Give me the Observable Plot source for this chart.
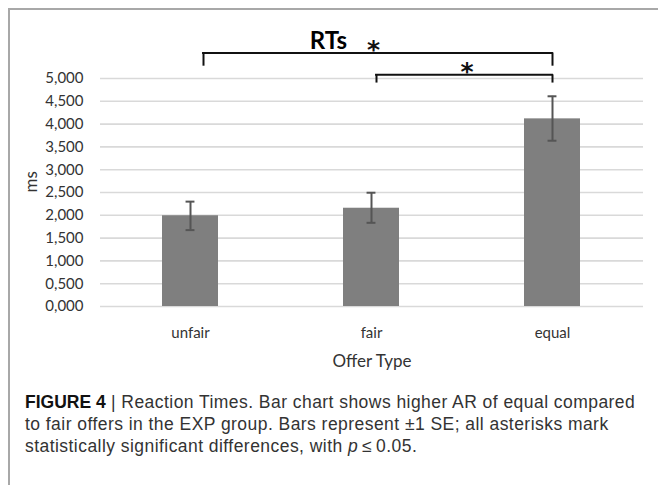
<!DOCTYPE html>
<html>
<head>
<meta charset="utf-8">
<script src="https://cdn.jsdelivr.net/npm/d3@7"></script>
<script src="https://cdn.jsdelivr.net/npm/@observablehq/plot@0.6"></script>
<style>
  html, body { margin: 0; padding: 0; background: #fff; }
  #wrap { position: relative; width: 658px; height: 485px; overflow: hidden; }
  #frame { position: absolute; left: 8px; top: 8px; width: 660px; height: 490px;
           border-left: 2px solid #a8a8a8; border-top: 2px solid #a8a8a8; }
  #chart { position: absolute; left: 0; top: 0; }
  #caption { position: absolute; left: 25px; top: 391px; width: 633px; white-space: nowrap;
             font-family: "Liberation Sans", Arial, sans-serif; font-size: 17.5px;
             line-height: 22px; color: #333; letter-spacing: 0.45px; }
  #caption b { color: #111; letter-spacing: 0; }
</style>
</head>
<body>
<div id="wrap">
  <div id="frame"></div>
  <div id="chart"></div>
  <div id="caption"></div>
</div>
<script>
// ---- data ----
const categories = ["unfair", "fair", "equal"];
const means = [1990, 2155, 4115];
const seLow = [1675, 1835, 3635];
const seHigh = [2300, 2495, 4610];
const yTicks = [0, 500, 1000, 1500, 2000, 2500, 3000, 3500, 4000, 4500, 5000];
const chartTitle = "RTs";
const yLabel = "ms";
const xLabel = "Offer Type";
// significance brackets
const bracketFrom = ["unfair", "fair"];
const bracketTo = ["equal", "equal"];
const bracketTop = [5560, 5080];
const bracketBottom = [5270, 4900];
const starText = ["*", "*"];
const starAt = ["fair", "fair"];
const starY = [5560, 5080];
const captionHead = "FIGURE 4";
const captionLines = [
  "Reaction Times. Bar chart shows higher AR of equal compared",
  "to fair offers in the EXP group. Bars represent \u00b11 SE; all asterisks mark",
  "statistically significant differences, with "
];

// ---- build ----
const data = categories.map((c, i) => ({cat: c, mean: means[i], lo: seLow[i], hi: seHigh[i]}));
const brackets = bracketFrom.map((f, i) => ({from: f, to: bracketTo[i], top: bracketTop[i], bottom: bracketBottom[i],
  star: starText[i], starAt: starAt[i], starY: starY[i]}));

const W = 658, H = 385, mL = 100, mR = 15, mT = 78, mB = 79;
const xOpts = {type: "band", domain: categories, paddingInner: 0.69, paddingOuter: 0.345};
const xs = Plot.scale({x: {...xOpts, range: [mL, W - mR]}});
const bw = xs.bandwidth;
const step = xs.step;

// style offsets for brackets (pixels)
const leftShift = [13, 5];
const starShift = [2, step / 2 + 5];
const capHalf = 4.5;

const ink = "#111";
const errInk = "#555";
const marks = [
  Plot.ruleY(yTicks, {stroke: "#d9d9d9", strokeWidth: 1.6}),
  Plot.barY(data, {x: "cat", y: "mean", fill: "#7f7f7f"}),
  Plot.ruleX(data, {x: "cat", y1: "lo", y2: "hi", stroke: errInk, strokeWidth: 2}),
  Plot.tickY(data, {x: "cat", y: "lo", stroke: errInk, strokeWidth: 2, insetLeft: bw / 2 - capHalf, insetRight: bw / 2 - capHalf}),
  Plot.tickY(data, {x: "cat", y: "hi", stroke: errInk, strokeWidth: 2, insetLeft: bw / 2 - capHalf, insetRight: bw / 2 - capHalf}),
  Plot.text([chartTitle], {frameAnchor: "top", dx: 328 - (mL + W - mR) / 2, dy: -30, lineAnchor: "bottom",
    text: d => d, fontSize: 24, fontWeight: "bold", fontFamily: "Lato, sans-serif", fill: "#000"})
];
brackets.forEach((b, i) => {
  marks.push(
    Plot.ruleY([b], {x1: "from", x2: "to", y: "top", insetLeft: bw / 2 + leftShift[i] - 1, insetRight: bw / 2 - 1, stroke: ink, strokeWidth: 2}),
    Plot.ruleX([b], {x: "from", y1: "bottom", y2: "top", dx: leftShift[i], stroke: ink, strokeWidth: 2}),
    Plot.ruleX([b], {x: "to", y1: "bottom", y2: "top", stroke: ink, strokeWidth: 2}),
    Plot.text([b], {x: "starAt", y: "starY", text: "star", dx: starShift[i], dy: 5, lineAnchor: "bottom",
      fontSize: 25, fontWeight: "bold", fontFamily: "DejaVu Sans, sans-serif", fill: ink})
  );
});
const fmt = d => (d / 1000).toFixed(3).replace(".", ",");
const chart = Plot.plot({
  width: W, height: H,
  marginLeft: mL, marginRight: mR, marginTop: mT, marginBottom: mB,
  style: {fontFamily: "Lato, sans-serif", fontSize: "15px", color: "#333", background: "transparent", overflow: "visible"},
  x: {...xOpts, label: null},
  y: {domain: [0, 5000], label: null},
  marks: [
    ...marks,
    Plot.axisX({tickSize: 0, tickPadding: 21, label: null, fontSize: 15}),
    Plot.axisY({ticks: yTicks, tickSize: 0, tickPadding: 17, label: null, fontSize: 15, tickFormat: fmt}),
    Plot.text([xLabel], {frameAnchor: "bottom", dy: 55, lineAnchor: "middle", text: d => d, fontSize: 17, fill: "#333"}),
    Plot.text([yLabel], {frameAnchor: "left", dx: -69, rotate: -90, text: d => d, fontSize: 17, fill: "#333"})
  ]
});
document.getElementById("chart").appendChild(chart);
const cap = document.getElementById("caption");
cap.innerHTML = "<b>" + captionHead + "</b> <span style='font-weight:300'>|</span> " + captionLines[0] + "<br>" +
  captionLines[1] + "<br>" + captionLines[2] + "<i>p</i>\u2009\u2264\u20090.05.";
</script>
</body>
</html>
